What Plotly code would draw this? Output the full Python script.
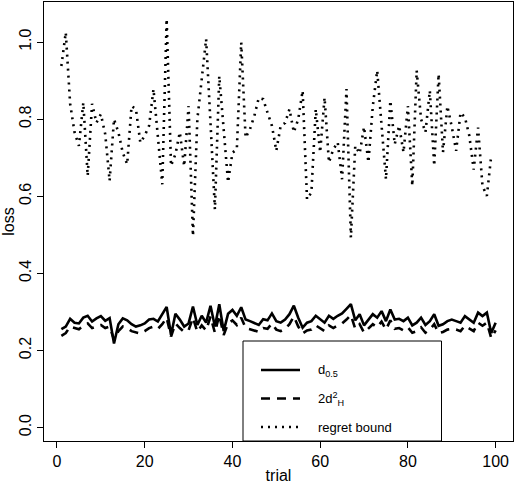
import plotly.graph_objects as go

# trials
trial = list(range(1, 101))

# d_0.5 loss (solid)
d05 = [0.255, 0.262, 0.282, 0.272, 0.270, 0.285, 0.290, 0.275, 0.283, 0.289,
       0.277, 0.284, 0.218, 0.268, 0.283, 0.278, 0.268, 0.262, 0.265, 0.270,
       0.280, 0.282, 0.275, 0.294, 0.313, 0.240, 0.295, 0.280, 0.262, 0.270,
       0.314, 0.266, 0.290, 0.272, 0.316, 0.262, 0.320, 0.250, 0.295, 0.305,
       0.290, 0.312, 0.280, 0.276, 0.272, 0.266, 0.281, 0.278, 0.296, 0.276,
       0.272, 0.280, 0.294, 0.316, 0.285, 0.259, 0.272, 0.276, 0.290, 0.282,
       0.272, 0.290, 0.282, 0.290, 0.296, 0.308, 0.320, 0.278, 0.294, 0.265,
       0.280, 0.294, 0.285, 0.302, 0.276, 0.306, 0.280, 0.282, 0.276, 0.285,
       0.265, 0.272, 0.285, 0.266, 0.276, 0.294, 0.264, 0.268, 0.276, 0.280,
       0.276, 0.272, 0.289, 0.280, 0.272, 0.298, 0.289, 0.298, 0.245, 0.272]

# 2 d_H^2 loss (dashed)
dh2 = [0.238, 0.245, 0.262, 0.258, 0.255, 0.264, 0.270, 0.258, 0.262, 0.266,
       0.258, 0.262, 0.228, 0.250, 0.262, 0.258, 0.250, 0.246, 0.244, 0.250,
       0.258, 0.262, 0.256, 0.268, 0.285, 0.236, 0.270, 0.258, 0.248, 0.252,
       0.285, 0.248, 0.265, 0.252, 0.288, 0.246, 0.292, 0.240, 0.270, 0.278,
       0.266, 0.285, 0.258, 0.255, 0.252, 0.248, 0.258, 0.256, 0.270, 0.254,
       0.250, 0.256, 0.268, 0.288, 0.262, 0.244, 0.252, 0.254, 0.265, 0.258,
       0.250, 0.265, 0.258, 0.265, 0.270, 0.280, 0.292, 0.256, 0.268, 0.246,
       0.256, 0.268, 0.260, 0.275, 0.254, 0.278, 0.256, 0.258, 0.252, 0.260,
       0.246, 0.250, 0.260, 0.246, 0.254, 0.268, 0.245, 0.248, 0.254, 0.256,
       0.254, 0.250, 0.264, 0.256, 0.250, 0.272, 0.264, 0.272, 0.232, 0.252]

# regret bound (dotted), trials 1..99
regret = [0.938, 1.025, 0.840, 0.766, 0.731, 0.843, 0.653, 0.840, 0.791, 0.813,
          0.761, 0.640, 0.800, 0.766, 0.713, 0.683, 0.834, 0.826, 0.739, 0.757,
          0.783, 0.878, 0.755, 0.631, 1.060, 0.679, 0.709, 0.766, 0.678, 0.834,
          0.497, 0.800, 0.904, 1.008, 0.790, 0.566, 0.912, 0.780, 0.636, 0.713,
          0.722, 0.999, 0.752, 0.774, 0.809, 0.855, 0.852, 0.817, 0.783, 0.718,
          0.783, 0.790, 0.826, 0.766, 0.800, 0.874, 0.592, 0.610, 0.826, 0.714,
          0.856, 0.688, 0.722, 0.740, 0.644, 0.878, 0.493, 0.731, 0.711, 0.780,
          0.688, 0.834, 0.926, 0.783, 0.644, 0.848, 0.735, 0.783, 0.714, 0.834,
          0.627, 0.926, 0.800, 0.766, 0.874, 0.679, 0.917, 0.714, 0.834, 0.780,
          0.718, 0.817, 0.805, 0.757, 0.669, 0.778, 0.627, 0.601, 0.705]

x_ticks = [0, 20, 40, 60, 80, 100]
y_ticks = [0.0, 0.2, 0.4, 0.6, 0.8, 1.0]
y_ticklabels = ["0.0", "0.2", "0.4", "0.6", "0.8", "1.0"]

legend_labels = ["d<sub>0.5</sub>", "2d<sup>2</sup><sub>H</sub>", "regret bound"]
legend_dashes = ["solid", "9px,7px", "2px,5px"]

W, H = 518, 484
L, R, T, B = 44, 5, 2, 43
FONT = "Liberation Sans, Arial, Helvetica, sans-serif"


def px_x(p):
    return (p - L) / (W - L - R)


def px_y(p):
    return (H - B - p) / (H - T - B)


fig = go.Figure()
fig.add_trace(go.Scatter(x=trial, y=d05, mode="lines",
                         line=dict(color="black", width=2.6), showlegend=False))
fig.add_trace(go.Scatter(x=trial, y=dh2, mode="lines",
                         line=dict(color="black", width=2.6, dash="9px,7px"), showlegend=False))
fig.add_trace(go.Scatter(x=trial[:len(regret)], y=regret, mode="lines",
                         line=dict(color="black", width=2.6, dash="2px,5px"), showlegend=False))

# legend box drawn by hand, R style
shapes = [dict(type="rect", xref="paper", yref="paper",
               x0=px_x(243), x1=px_x(441.5), y0=0, y1=px_y(341),
               line=dict(color="black", width=1), fillcolor="white", layer="below")]
annotations = []
for k, (lab, dsh) in enumerate(zip(legend_labels, legend_dashes)):
    yy = px_y(370 + k * 28.5)
    shapes.append(dict(type="line", xref="paper", yref="paper",
                       x0=px_x(261), x1=px_x(300), y0=yy, y1=yy,
                       line=dict(color="black", width=2.6, dash=dsh)))
    annotations.append(dict(text=lab, xref="paper", yref="paper", x=px_x(316), y=yy,
                            xanchor="left", yanchor="middle", showarrow=False,
                            font=dict(size=13, color="black", family=FONT)))

fig.update_layout(
    width=W, height=H,
    margin=dict(l=L, r=R, t=T, b=B),
    plot_bgcolor="white", paper_bgcolor="white",
    font=dict(family=FONT, size=16, color="black"),
    shapes=shapes, annotations=annotations,
    xaxis=dict(range=[-2.96, 103.96], tickvals=x_ticks, ticks="outside", ticklen=6,
               tickcolor="black", showline=True, linecolor="black", linewidth=1, mirror=True,
               showgrid=False, zeroline=False, tickfont=dict(size=16), automargin=False,
               title=dict(text="trial", font=dict(size=16), standoff=2)),
    yaxis=dict(range=[-0.035, 1.104], tickvals=y_ticks, ticktext=y_ticklabels, tickangle=-90,
               ticks="outside", ticklen=6, tickcolor="black", showline=True, linecolor="black",
               linewidth=1, mirror=True, showgrid=False, zeroline=False, tickfont=dict(size=16),
               automargin=False, title=dict(text="loss", font=dict(size=16), standoff=2)),
)

# page body has an 8px default margin; drop it so the figure fills the window
fig.write_html("out.html", config={"displayModeBar": False},
               post_script="document.body.style.margin='0px';")
